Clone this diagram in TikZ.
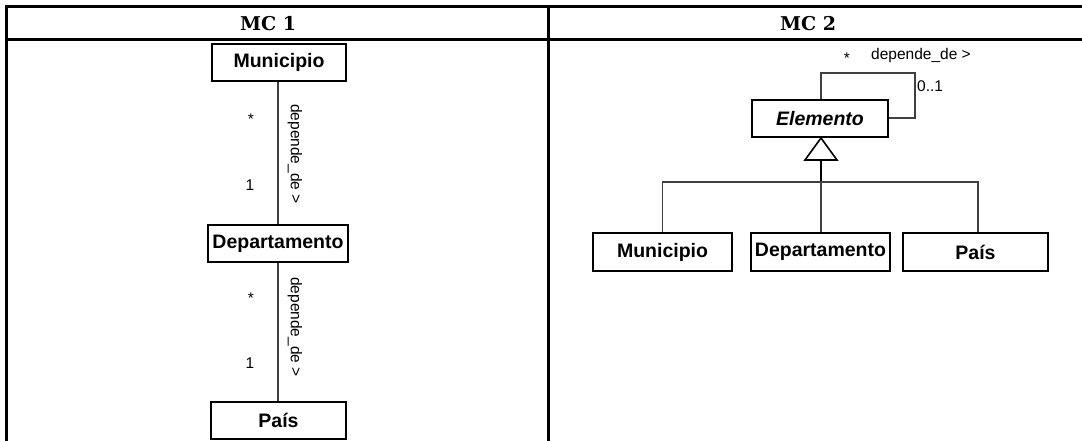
\documentclass[tikz,border=0pt]{standalone}
\usepackage{fontspec}
\newfontfamily\arialfont{Liberation Sans}
\newfontfamily\headfont{DejaVu Serif}
\begin{document}
\begin{tikzpicture}[x=1pt,y=-1pt,
  frame/.style={line width=3pt},
  cls/.style={draw,line width=1.8pt,rectangle,inner sep=0pt,minimum height=37pt,
    font=\arialfont\fontsize{19.5}{22}\selectfont\bfseries},
  link/.style={line width=1.3pt,draw=black!75},
  lbl/.style={inner sep=0pt,font=\arialfont\fontsize{15.5}{17}\selectfont},
  head/.style={inner sep=0pt,font=\headfont\fontsize{19}{22}\selectfont\bfseries}]
\useasboundingbox (0,0) rectangle (1082,441);

% table frame
\draw[frame] (6,7) -- (1082,7);
\draw[frame] (6,40) -- (1082,40);
\draw[frame] (6.5,5.5) -- (6.5,441);
\draw[frame] (548.5,5.5) -- (548.5,441);
\node[head] (h1) at (268,24) {MC 1};
\node[head] (h2) at (808,24) {MC 2};

% ---- MC 1: chain of dependencies
\node[cls,minimum width=134pt] (m1) at (279,62.5) {Municipio};
\node[cls,minimum width=140pt] (d1) at (278,243.5) {Departamento};
\node[cls,minimum width=135pt] (p1) at (278.5,420.5) {País};
\draw[link] (m1.south -| 278,0) -- (d1.north -| 278,0);
\draw[link] (d1.south -| 278,0) -- (p1.north -| 278,0);
\node[lbl] (s1) at (251,119) {*};
\node[lbl] (o1) at (250,185) {1};
\node[lbl,rotate=-90] (t1) at (295,154) {depende\_de >};
\node[lbl] (s2) at (251,298) {*};
\node[lbl] (o2) at (250,363) {1};
\node[lbl,rotate=-90] (t2) at (295,327) {depende\_de >};

% ---- MC 2: generalisation with self association
\node[cls,minimum width=136pt,font=\arialfont\fontsize{19.5}{22}\selectfont\bfseries\itshape] (e) at (820,118.5) {Elemento};
\coordinate (la) at (821,73);
\coordinate (lb) at (915,73);
\coordinate (lc) at (915,118);
\draw[link] (e.north -| la) -- (la) -- (lb) -- (lc) -- (e.east |- lc);
\node[lbl] (s3) at (847,58) {*};
\node[lbl,anchor=west] (t3) at (871,55) {depende\_de >};
\node[lbl,anchor=west] (o3) at (917,86) {0..1};

\node[cls,minimum width=139pt,minimum height=38pt] (m2) at (662.5,252) {Municipio};
\node[cls,minimum width=139pt,minimum height=38pt] (d2) at (820.5,252) {Departamento};
\node[cls,minimum width=145pt,minimum height=38pt] (p2) at (975.5,252) {País};

\coordinate (apex) at (821,138);
\coordinate (bl) at (805,160);
\coordinate (br) at (837,160);
\coordinate (bm) at (821,160);
\coordinate (j) at (821,182);
\draw[line width=1.6pt,fill=white] (apex) -- (br) -- (bl) -- cycle;
\draw[line width=2.4pt] (bm) -- (j);
\draw[link] (m2.north) -- (m2.north |- j) -- ([xshift=2.5pt]p2.north |- j) -- ([xshift=2.5pt]p2.north);
\draw[link] (j) -- (d2.north -| j);
\end{tikzpicture}
\end{document}
